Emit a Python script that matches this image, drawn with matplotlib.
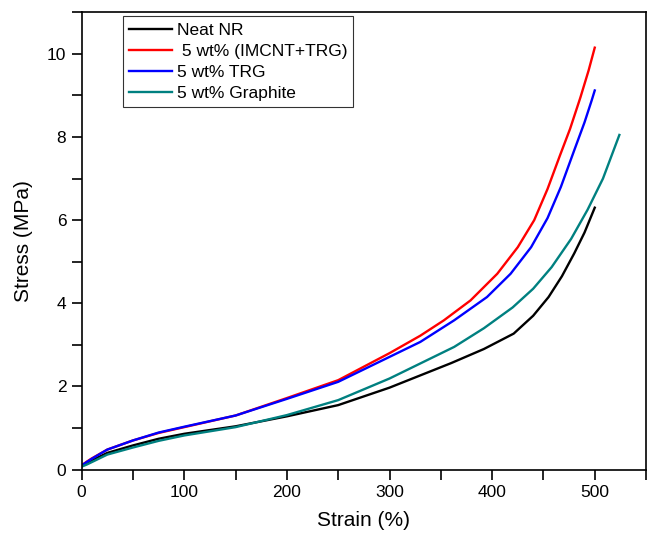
import matplotlib.pyplot as plt
from matplotlib.ticker import MultipleLocator

plt.rcParams['font.family'] = ['Liberation Sans', 'DejaVu Sans']

# Data (strain %, stress MPa)
strain_nr = [0, 5, 10, 25, 50, 75, 100, 150, 200, 250, 300, 360, 392, 421, 440, 455, 468, 480, 490, 500]
stress_nr = [0.08, 0.15, 0.22, 0.40, 0.58, 0.74, 0.86, 1.04, 1.28, 1.55, 1.97, 2.56, 2.90, 3.27, 3.70, 4.15, 4.65, 5.20, 5.70, 6.30]

strain_hyb = [0, 5, 10, 25, 50, 75, 100, 150, 200, 250, 300, 330, 353, 379, 405, 425, 441, 454, 466, 476, 486, 494, 500]
stress_hyb = [0.10, 0.19, 0.27, 0.48, 0.70, 0.88, 1.02, 1.30, 1.72, 2.15, 2.80, 3.22, 3.59, 4.07, 4.71, 5.35, 6.00, 6.75, 7.55, 8.20, 8.95, 9.60, 10.15]

strain_trg = [0, 5, 10, 25, 50, 75, 100, 150, 200, 250, 300, 330, 363, 395, 418, 438, 454, 467, 480, 490, 497, 500]
stress_trg = [0.10, 0.18, 0.26, 0.48, 0.70, 0.89, 1.03, 1.30, 1.70, 2.11, 2.71, 3.07, 3.59, 4.15, 4.71, 5.35, 6.05, 6.80, 7.68, 8.35, 8.88, 9.12]

strain_gr = [0, 5, 10, 25, 50, 75, 100, 150, 200, 250, 300, 363, 392, 420, 440, 458, 477, 493, 508, 524]
stress_gr = [0.07, 0.12, 0.18, 0.36, 0.53, 0.69, 0.82, 1.02, 1.31, 1.67, 2.19, 2.95, 3.40, 3.90, 4.35, 4.87, 5.55, 6.25, 7.00, 8.05]

labels = ['Neat NR', ' 5 wt% (IMCNT+TRG)', '5 wt% TRG', '5 wt% Graphite']
colors = ['black', 'red', 'blue', '#008080']

fig = plt.figure(figsize=(6.48, 5.36), dpi=100)
ax = fig.add_axes([0.126, 0.124, 0.871, 0.853])

series = [(strain_nr, stress_nr), (strain_hyb, stress_hyb),
          (strain_trg, stress_trg), (strain_gr, stress_gr)]
for (x, y), lab, c in zip(series, labels, colors):
    ax.plot(x, y, color=c, lw=1.7, label=lab)

ax.set_xlim(0, 550)
ax.set_ylim(0, 11)
ax.xaxis.set_major_locator(MultipleLocator(100))
ax.xaxis.set_minor_locator(MultipleLocator(50))
ax.yaxis.set_major_locator(MultipleLocator(2))
ax.yaxis.set_minor_locator(MultipleLocator(1))
ax.tick_params(which='both', direction='out', length=7, width=1.2,
               top=False, right=False, labelsize=12.5, pad=4)
for s in ax.spines.values():
    s.set_linewidth(1.2)

ax.set_xlabel('Strain (%)', fontsize=15, labelpad=8)
ax.set_ylabel('Stress (MPa)', fontsize=15, labelpad=10)

leg = ax.legend(loc='upper left', bbox_to_anchor=(0.073, 0.991), fontsize=12.5,
                frameon=True, fancybox=False, handlelength=2.5,
                handletextpad=0.25, borderpad=0.35, labelspacing=0.35,
                borderaxespad=0)
leg.get_frame().set_edgecolor('black')
leg.get_frame().set_linewidth(0.8)

fig.savefig('out.png', dpi=100)
